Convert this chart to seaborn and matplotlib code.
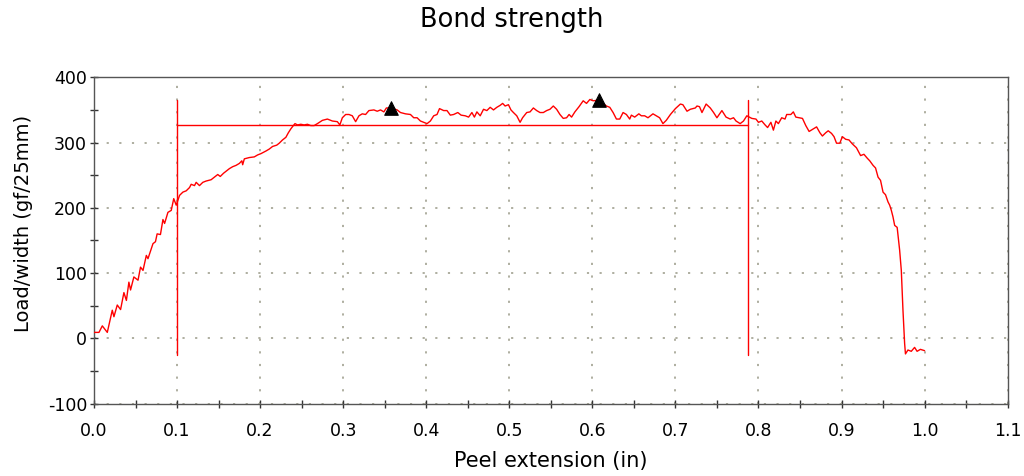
import numpy as np
import pandas as pd
import matplotlib
matplotlib.use("Agg")
import matplotlib.pyplot as plt
import seaborn as sns
from matplotlib.ticker import MultipleLocator

# peel curve (in, gf/25mm)
peel_ext = [
    0.000, 0.006, 0.010, 0.016, 0.022, 0.024, 0.028, 0.032, 0.036, 0.039,
    0.042, 0.044, 0.048, 0.053, 0.056, 0.059, 0.063, 0.065, 0.071, 0.074,
    0.076, 0.080, 0.083, 0.085, 0.089, 0.093, 0.096, 0.099, 0.103, 0.107,
    0.111, 0.115, 0.117, 0.121, 0.123, 0.127, 0.131, 0.135, 0.141, 0.145,
    0.149, 0.152, 0.156, 0.159, 0.163, 0.167, 0.171, 0.175, 0.178, 0.179,
    0.181, 0.187, 0.193, 0.197, 0.201, 0.207, 0.211, 0.215, 0.220, 0.223,
    0.227, 0.231, 0.234, 0.237, 0.240, 0.242, 0.245, 0.249, 0.253, 0.257,
    0.261, 0.265, 0.269, 0.275, 0.281, 0.287, 0.293, 0.296, 0.299, 0.303,
    0.307, 0.311, 0.315, 0.319, 0.323, 0.327, 0.331, 0.337, 0.341, 0.345,
    0.349, 0.352, 0.358, 0.365, 0.369, 0.375, 0.381, 0.385, 0.389, 0.393,
    0.397, 0.401, 0.405, 0.409, 0.413, 0.416, 0.421, 0.425, 0.429, 0.433,
    0.438, 0.442, 0.447, 0.451, 0.455, 0.458, 0.461, 0.465, 0.469, 0.473,
    0.477, 0.481, 0.485, 0.489, 0.492, 0.495, 0.499, 0.502, 0.505, 0.509,
    0.513, 0.516, 0.521, 0.525, 0.529, 0.533, 0.537, 0.541, 0.545, 0.549,
    0.553, 0.557, 0.561, 0.565, 0.569, 0.572, 0.575, 0.579, 0.584, 0.589,
    0.593, 0.597, 0.601, 0.608, 0.613, 0.617, 0.621, 0.625, 0.629, 0.633,
    0.637, 0.641, 0.645, 0.647, 0.651, 0.656, 0.659, 0.663, 0.667, 0.673,
    0.677, 0.681, 0.685, 0.689, 0.694, 0.700, 0.706, 0.709, 0.714, 0.718,
    0.724, 0.726, 0.729, 0.732, 0.737, 0.742, 0.746, 0.750, 0.756, 0.761,
    0.766, 0.770, 0.773, 0.778, 0.782, 0.786, 0.792, 0.797, 0.800, 0.804,
    0.808, 0.811, 0.815, 0.818, 0.821, 0.824, 0.828, 0.832, 0.834, 0.839,
    0.842, 0.845, 0.849, 0.853, 0.857, 0.861, 0.866, 0.870, 0.874, 0.877,
    0.881, 0.884, 0.888, 0.891, 0.894, 0.898, 0.901, 0.905, 0.909, 0.913,
    0.918, 0.923, 0.927, 0.931, 0.934, 0.938, 0.941, 0.944, 0.947, 0.950,
    0.953, 0.956, 0.958, 0.960, 0.962, 0.964, 0.967, 0.970, 0.972, 0.974,
    0.976, 0.977, 0.980, 0.984, 0.988, 0.991, 0.995, 1.000,
]
load_width = [
    9, 9, 19, 9, 43, 33, 51, 44, 70, 58,
    86, 74, 94, 89, 109, 104, 127, 122, 145, 148,
    160, 159, 182, 176, 193, 196, 214, 204, 219, 224,
    226, 231, 236, 234, 239, 234, 239, 241, 243, 247,
    251, 248, 253, 256, 260, 263, 265, 268, 272, 266,
    275, 277, 278, 281, 283, 287, 290, 294, 296, 299,
    304, 308, 315, 321, 326, 329, 327, 328, 327, 328,
    326, 326, 329, 334, 336, 333, 332, 327, 338, 343,
    343, 341, 332, 341, 344, 343, 349, 350, 348, 350,
    347, 353, 353, 350, 346, 344, 343, 338, 338, 333,
    331, 329, 333, 341, 343, 352, 349, 349, 342, 343,
    346, 342, 341, 339, 346, 339, 347, 341, 351, 349,
    354, 350, 354, 357, 360, 356, 358, 350, 346, 341,
    331, 338, 346, 347, 353, 349, 346, 346, 349, 351,
    356, 351, 343, 337, 338, 343, 339, 347, 355, 364,
    360, 366, 364, 365, 360, 356, 354, 346, 336, 336,
    346, 343, 336, 342, 339, 344, 341, 341, 338, 344,
    341, 338, 329, 334, 343, 352, 359, 358, 348, 351,
    353, 356, 355, 346, 359, 353, 346, 338, 349, 339,
    336, 338, 333, 329, 333, 341, 337, 336, 331, 333,
    327, 323, 331, 319, 333, 329, 338, 336, 343, 343,
    347, 339, 338, 337, 326, 317, 321, 324, 315, 310,
    315, 318, 314, 309, 299, 299, 309, 305, 304, 298,
    292, 280, 282, 276, 272, 265, 261, 247, 242, 224,
    220, 209, 204, 196, 186, 173, 170, 135, 104, 43,
    -8, -24, -18, -20, -14, -20, -17, -19,
]

# peak markers
peak_x = [0.358, 0.608]
peak_y = [353, 365]

# averaging window and its mean level
window_x = [0.1, 0.787]
window_y = [-25, 365]
mean_level = 327


def main():
    assert len(peel_ext) == len(load_width)
    df = pd.DataFrame({"ext": peel_ext, "load": load_width})
    peaks = pd.DataFrame({"ext": peak_x, "load": peak_y})

    sns.set_theme(style="white")
    plt.rcParams["font.family"] = ["DejaVu Sans"]
    plt.rcParams["axes.unicode_minus"] = False
    plt.rcParams["text.color"] = "black"
    plt.rcParams["axes.labelcolor"] = "black"

    fig = plt.figure(figsize=(10.24, 4.76), dpi=100)
    ax = fig.add_axes([0.0918, 0.1523, 0.8922, 0.6853])

    ax.grid(True, which="major", color="#a8a898", linestyle=(0, (1.2, 5.8)), linewidth=1.3)

    sns.lineplot(data=df, x="ext", y="load", sort=False, estimator=None,
                 color="red", linewidth=1.0, ax=ax, zorder=3)

    # window lines
    for wx in window_x:
        ax.plot([wx, wx], window_y, color="red", linewidth=1.0, zorder=2)
    ax.plot(window_x, [mean_level, mean_level], color="red", linewidth=1.0, zorder=2)

    sns.scatterplot(data=peaks, x="ext", y="load", marker="^", s=95,
                    color="black", edgecolor="black", ax=ax, zorder=4)

    ax.set_xlim(0, 1.1)
    ax.set_ylim(-100, 400)
    ax.xaxis.set_major_locator(MultipleLocator(0.1))
    ax.xaxis.set_minor_locator(MultipleLocator(0.05))
    ax.yaxis.set_major_locator(MultipleLocator(100))
    ax.yaxis.set_minor_locator(MultipleLocator(50))
    ax.set_xticklabels([f"{v:.1f}" for v in ax.get_xticks()])

    ax.tick_params(axis="both", which="both", direction="inout", length=6,
                   width=1, color="#333333", labelsize=12.5, labelcolor="black")
    ax.tick_params(axis="x", which="major", pad=10)
    ax.tick_params(axis="y", which="major", pad=2)
    ax.tick_params(left=True, bottom=True, top=False, right=False)
    ax.tick_params(axis="both", which="minor", left=True, bottom=True)

    for side in ["left", "bottom", "top", "right"]:
        ax.spines[side].set_visible(True)
        ax.spines[side].set_color("#555555")
        ax.spines[side].set_linewidth(1.0)

    ax.set_xlabel("Peel extension (in)", fontsize=15)
    ax.set_ylabel("Load/width (gf/25mm)", fontsize=14)
    ax.xaxis.set_label_coords(0.5, -0.146)
    ax.yaxis.set_label_coords(-0.0667, 0.553)
    fig.suptitle("Bond strength", fontsize=18.5, x=0.5, y=0.985)

    fig.savefig("out.png", dpi=100)


if __name__ == "__main__":
    main()
